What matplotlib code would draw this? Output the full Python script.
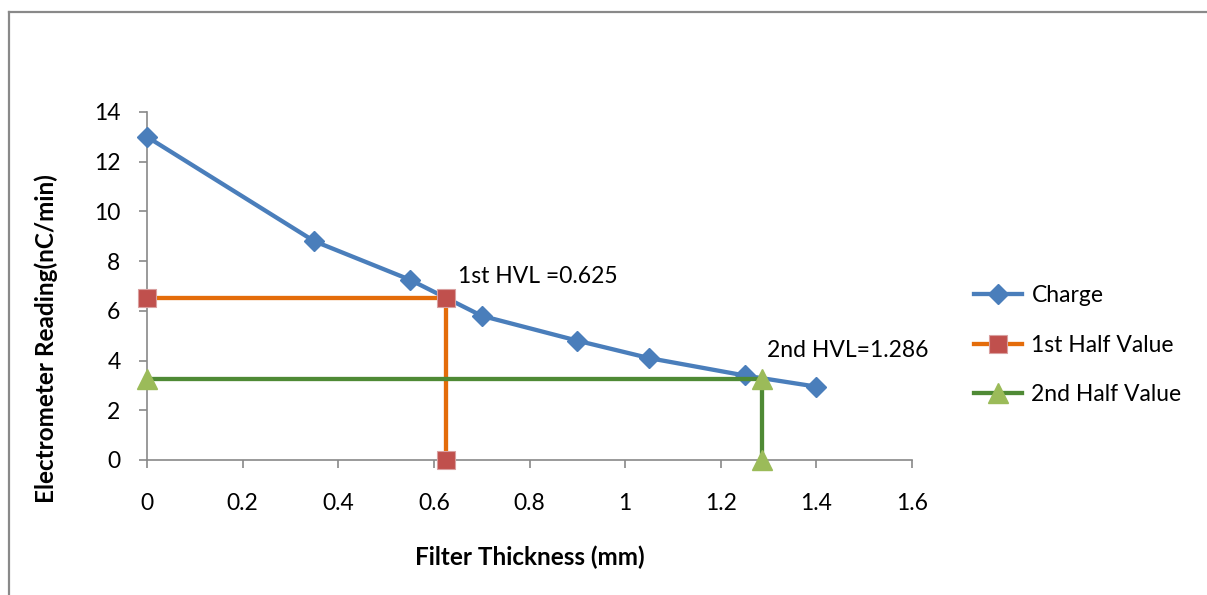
import matplotlib.pyplot as plt
from matplotlib.lines import Line2D

# Data
thickness = [0, 0.35, 0.55, 0.70, 0.90, 1.05, 1.25, 1.40]
charge = [13.0, 8.8, 7.25, 5.8, 4.8, 4.1, 3.4, 2.95]

hvl1_x = [0, 0.625, 0.625]
hvl1_y = [6.5, 6.5, 0]
hvl2_x = [0, 1.286, 1.286]
hvl2_y = [3.25, 3.25, 0]

x_ticks = [0, 0.2, 0.4, 0.6, 0.8, 1, 1.2, 1.4, 1.6]
x_tick_labels = ["0", "0.2", "0.4", "0.6", "0.8", "1", "1.2", "1.4", "1.6"]
y_ticks = [0, 2, 4, 6, 8, 10, 12, 14]

plt.rcParams['font.family'] = ['Lato', 'DejaVu Sans']
FS = 16.5

fig = plt.figure(figsize=(12.07, 5.95), dpi=100)
ax = fig.add_axes([0.1218, 0.2269, 0.6338, 0.5849])

ax.plot(thickness, charge, color='#4A7EBB', lw=3.1, marker='D', ms=10,
        markerfacecolor='#4A7EBB', markeredgecolor='#4A7EBB', label='Charge',
        zorder=3, clip_on=False)
ax.plot(hvl1_x, hvl1_y, color='#E46C0A', lw=3.1, marker='s', ms=13,
        markerfacecolor='#C0504D', markeredgecolor='#D9A0A0', markeredgewidth=0.8,
        label='1st Half Value', zorder=4, clip_on=False)
ax.plot(hvl2_x, hvl2_y, color='#4F8A35', lw=3.1, marker='^', ms=15,
        markerfacecolor='#9BBB59', markeredgecolor='#9BBB59',
        label='2nd Half Value', zorder=5, clip_on=False)

ax.text(0.651, 7.4, "1st HVL =0.625", fontsize=FS, va='center', ha='left')
ax.text(1.297, 4.42, "2nd HVL=1.286", fontsize=FS, va='center', ha='left')

ax.set_xlim(0, 1.6)
ax.set_ylim(0, 14)
ax.set_xticks(x_ticks)
ax.set_xticklabels(x_tick_labels)
ax.set_yticks(y_ticks)
ax.tick_params(axis='both', labelsize=FS, length=6, color='#898989', width=1.2)
ax.tick_params(axis='x', pad=18)
ax.tick_params(axis='y', pad=13)

for side in ['top', 'right']:
    ax.spines[side].set_visible(False)
for side in ['left', 'bottom']:
    ax.spines[side].set_color('#898989')
    ax.spines[side].set_linewidth(1.2)

ax.set_xlabel("Filter Thickness (mm)", fontsize=17.5, fontweight='bold')
ax.xaxis.set_label_coords(0.5, -0.247)
ax.set_ylabel("Electrometer Reading(nC/min)", fontsize=17.5, fontweight='bold')
ax.yaxis.set_label_coords(-0.116, 0.35)

fig.legend(loc='center left', bbox_to_anchor=(0.79, 0.42), frameon=False,
           fontsize=FS, handlelength=2.1, labelspacing=1.25, handletextpad=0.4)

# outer chart border (right and bottom fall outside the picture)
fig.add_artist(Line2D([8.5 / 1207, 8.5 / 1207], [0, 1 - 11.5 / 595],
                      transform=fig.transFigure, color='#898989', lw=1.6))
fig.add_artist(Line2D([8.5 / 1207, 1], [1 - 11.5 / 595, 1 - 11.5 / 595],
                      transform=fig.transFigure, color='#898989', lw=1.6))

fig.savefig("out.png", dpi=100)
